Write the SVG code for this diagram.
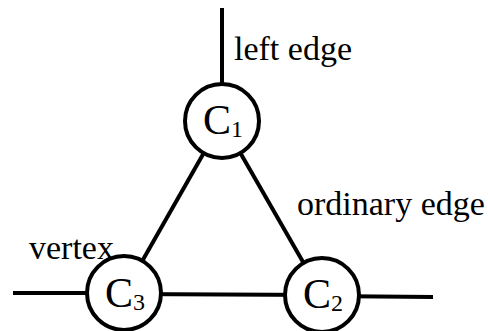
<svg xmlns="http://www.w3.org/2000/svg" width="488" height="331" viewBox="0 0 488 331">
<style>
.n{fill:#fff;stroke:#000;stroke-width:4}
.e{stroke:#000;stroke-width:4;fill:none}
.t{font-family:"Liberation Serif","Times New Roman",serif;fill:#000}
.lbl{font-size:34px}
.c{font-size:42px}
.s{font-size:24px}
</style>
<rect width="488" height="331" fill="#fff"/>
<g id="connectors">
<line class="e" x1="222" y1="8" x2="222" y2="85"/>
<line class="e" x1="222" y1="121" x2="124" y2="293"/>
<line class="e" x1="222" y1="121" x2="322" y2="295"/>
<line class="e" x1="13" y1="293" x2="124" y2="293"/>
<line class="e" x1="124" y1="294" x2="322" y2="295"/>
<line class="e" x1="322" y1="296" x2="433" y2="297"/>
</g>
<g id="C1"><circle class="n" cx="222" cy="121" r="37"/><text class="t c" x="203" y="134">C<tspan class="s" dy="3">1</tspan></text></g>
<g id="C2"><circle class="n" cx="322" cy="295" r="37"/><text class="t c" x="303" y="308">C<tspan class="s" dy="3">2</tspan></text></g>
<g id="C3"><circle class="n" cx="124" cy="293" r="37"/><text class="t c" x="105" y="307">C<tspan class="s" dy="3">3</tspan></text></g>
<g id="labels">
<text class="t lbl" x="234" y="60">left edge</text>
<text class="t lbl" x="297" y="215">ordinary edge</text>
<text class="t lbl" x="29" y="259">vertex</text>
</g>
</svg>
